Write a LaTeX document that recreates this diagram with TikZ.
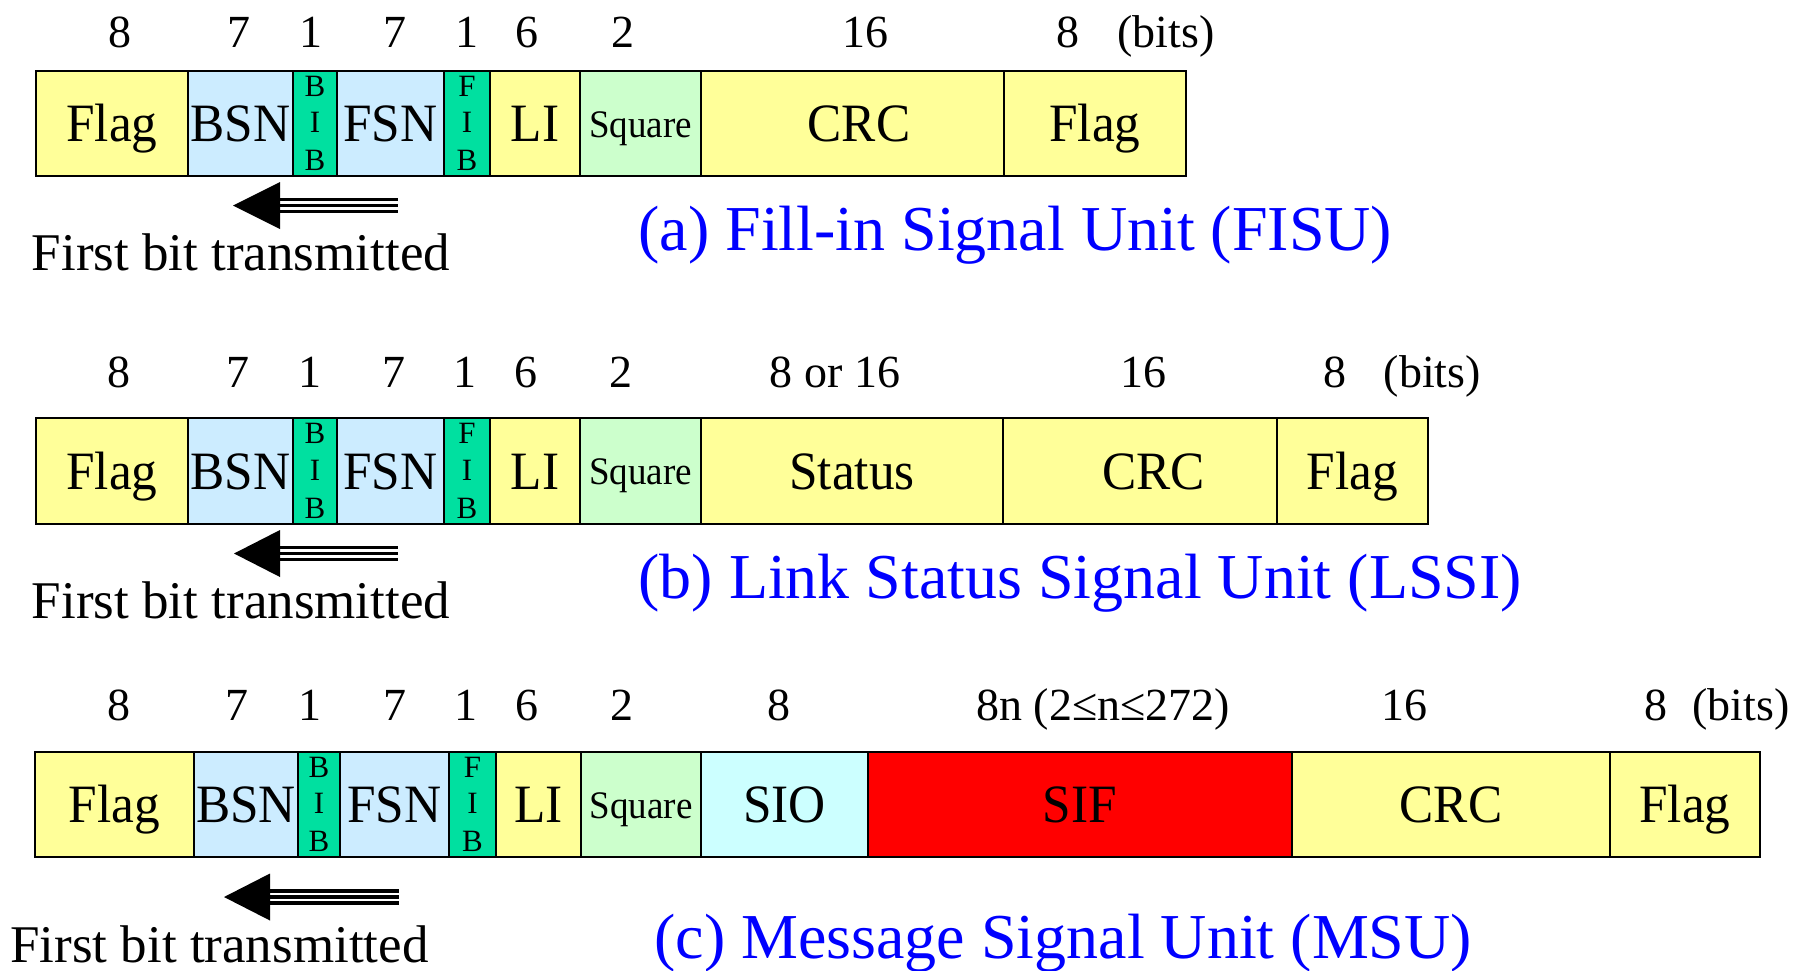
\documentclass[tikz,border=0pt]{standalone}
\usepackage{fontspec}
\setmainfont{Liberation Serif}
\newfontfamily\condserif[FakeStretch=0.95]{Liberation Serif}
\definecolor{yel}{RGB}{255,255,153}
\definecolor{lblu}{RGB}{204,236,255}
\definecolor{tealb}{RGB}{0,224,160}
\definecolor{lgrn}{RGB}{204,255,204}
\definecolor{lcyan}{RGB}{204,255,255}
\definecolor{capblue}{RGB}{0,0,255}
\tikzset{
  fieldbox/.style={draw=black, line width=1.3pt, inner sep=0pt, outer sep=0pt,
    text height=18.2pt, text depth=0pt, font=\condserif\fontsize{27}{27}\selectfont},
  sqbox/.style={font=\condserif\fontsize{19.5}{19.5}\selectfont, text height=13.8pt},
  bitlet/.style={font=\fontsize{15.5}{15.5}\selectfont, anchor=base, inner sep=0pt},
  numtxt/.style={font=\fontsize{23}{23}\selectfont, anchor=base, inner sep=0pt},
  fbtxt/.style={font=\fontsize{26.5}{26.5}\selectfont, anchor=base west, inner sep=0pt},
  captxt/.style={font=\fontsize{32}{32}\selectfont, text=capblue, anchor=base west, inner sep=0pt},
  shaft/.style={line width=1.75pt, black}
}
% name, x1, x2, ytop, ybot, style, text
\newcommand\fld[7]{\node[fieldbox,#6,minimum width={(#3-#2)*0.5pt},minimum height={(#5-#4)*0.5pt}] (#1) at ({(#2+#3)/2},{(#4+#5)/2}) {#7};}
% three stacked letters in a one-bit field: field name, top letter
\newcommand\bits[2]{%
  \node[bitlet] (#1-t) at ([yshift=13.75pt]#1.center) {#2};
  \node[bitlet] (#1-m) at ([yshift=-4.6pt]#1.center) {I};
  \node[bitlet] (#1-b) at ([yshift=-23.6pt]#1.center) {B};}
% tip x, tip y, head base x, shaft end x
\newcommand\fbarrow[4]{%
  \fill (#1,#2) -- (#3,#2-23.5) -- (#3,#2+23.5) -- cycle;
  \draw[shaft] (#3-1,#2-6) -- (#4,#2-6);
  \draw[shaft] (#3-1,#2) -- (#4,#2);
  \draw[shaft] (#3-1,#2+6) -- (#4,#2+6);}
\begin{document}
\begin{tikzpicture}[x=0.5pt,y=-0.5pt]
\useasboundingbox (0,0) rectangle (1804,970);
% ---------- (a) FISU ----------
\node[numtxt] (na1) at (119.7,47) {8};
\node[numtxt] (na2) at (238.5,47) {7};
\node[numtxt] (na3) at (311,47) {1};
\node[numtxt] (na4) at (395,47) {7};
\node[numtxt] (na5) at (466.5,47) {1};
\node[numtxt] (na6) at (527,47) {6};
\node[numtxt] (na7) at (622.5,47) {2};
\node[numtxt] (na8) at (865,47) {16};
\node[numtxt] (na9) at (1068,47) {8};
\node[numtxt] (na10) at (1166,47) {(bits)};
\fld{aFlagA}{36}{188}{71}{176}{fill=yel}{Flag}
\fld{aBSN}{188}{293}{71}{176}{fill=lblu}{BSN}
\fld{aBIB}{293}{337}{71}{176}{fill=tealb}{}
\fld{aFSN}{337}{444}{71}{176}{fill=lblu}{FSN}
\fld{aFIB}{444}{490}{71}{176}{fill=tealb}{}
\fld{aLI}{490}{580}{71}{176}{fill=yel}{LI}
\fld{aSq}{580}{701}{71}{176}{fill=lgrn,sqbox}{Square}
\fld{aCRC}{701}{1004}{71}{176}{fill=yel}{\hspace*{6.5pt}CRC}
\fld{aFlagB}{1004}{1186}{71}{176}{fill=yel}{Flag}
\bits{aBIB}{B}
\bits{aFIB}{F}
\fbarrow{233}{205.5}{280}{398}
\node[fbtxt] (fa) at (31.5,270) {First bit transmitted};
\node[captxt] (ca) at (638,250) {(a) Fill-in Signal Unit (FISU)};
% ---------- (b) LSSU ----------
\node[numtxt] (nb1) at (118.5,387) {8};
\node[numtxt] (nb2) at (238,387) {7};
\node[numtxt] (nb3) at (310,387) {1};
\node[numtxt] (nb4) at (393.5,387) {7};
\node[numtxt] (nb5) at (465,387) {1};
\node[numtxt] (nb6) at (526,387) {6};
\node[numtxt] (nb7) at (621,387) {2};
\node[numtxt] (nb8) at (835,387) {8 or 16};
\node[numtxt] (nb9) at (1143.6,387) {16};
\node[numtxt] (nb10) at (1334.6,387) {8};
\node[numtxt] (nb11) at (1432.4,387) {(bits)};
\fld{bFlagA}{36}{188}{418}{524}{fill=yel}{Flag}
\fld{bBSN}{188}{293}{418}{524}{fill=lblu}{BSN}
\fld{bBIB}{293}{337}{418}{524}{fill=tealb}{}
\fld{bFSN}{337}{444}{418}{524}{fill=lblu}{FSN}
\fld{bFIB}{444}{490}{418}{524}{fill=tealb}{}
\fld{bLI}{490}{580}{418}{524}{fill=yel}{LI}
\fld{bSq}{580}{701}{418}{524}{fill=lgrn,sqbox}{Square}
\fld{bStat}{701}{1003}{418}{524}{fill=yel}{Status}
\fld{bCRC}{1003}{1277}{418}{524}{fill=yel}{\hspace*{13.5pt}CRC}
\fld{bFlagB}{1277}{1428}{418}{524}{fill=yel}{Flag}
\bits{bBIB}{B}
\bits{bFIB}{F}
\fbarrow{234}{553.5}{280}{398}
\node[fbtxt] (fb) at (31.6,618) {First bit transmitted};
\node[captxt] (cb) at (638,598) {(b) Link Status Signal Unit (LSSI)};
% ---------- (c) MSU ----------
\node[numtxt] (nc1) at (118.8,720) {8};
\node[numtxt] (nc2) at (236.5,720) {7};
\node[numtxt] (nc3) at (310,720) {1};
\node[numtxt] (nc4) at (395,720) {7};
\node[numtxt] (nc5) at (466,720) {1};
\node[numtxt] (nc6) at (527,720) {6};
\node[numtxt] (nc7) at (621.7,720) {2};
\node[numtxt] (nc8) at (779,720) {8};
\node[numtxt] (nc9) at (1103,720) {8n (2≤n≤272)};
\node[numtxt] (nc10) at (1404.7,720) {16};
\node[numtxt] (nc11) at (1656,720) {8};
\node[numtxt] (nc12) at (1741,720) {(bits)};
\fld{cFlagA}{35}{194}{752}{857}{fill=yel}{Flag}
\fld{cBSN}{194}{298}{752}{857}{fill=lblu}{BSN}
\fld{cBIB}{298}{340}{752}{857}{fill=tealb}{}
\fld{cFSN}{340}{449}{752}{857}{fill=lblu}{FSN}
\fld{cFIB}{449}{496}{752}{857}{fill=tealb}{}
\fld{cLI}{496}{581}{752}{857}{fill=yel}{LI}
\fld{cSq}{581}{701}{752}{857}{fill=lgrn,sqbox}{Square}
\fld{cSIO}{701}{868}{752}{857}{fill=lcyan}{SIO}
\fld{cSIF}{868}{1292}{752}{857}{fill=red}{SIF}
\fld{cCRC}{1292}{1610}{752}{857}{fill=yel}{CRC}
\fld{cFlagB}{1610}{1760}{752}{857}{fill=yel}{Flag}
\bits{cBIB}{B}
\bits{cFIB}{F}
\fbarrow{224}{897}{270}{399}
\node[fbtxt] (fc) at (10,962) {First bit transmitted};
\node[captxt] (cc) at (654,958) {(c) Message Signal Unit (MSU)};
\end{tikzpicture}
\end{document}
